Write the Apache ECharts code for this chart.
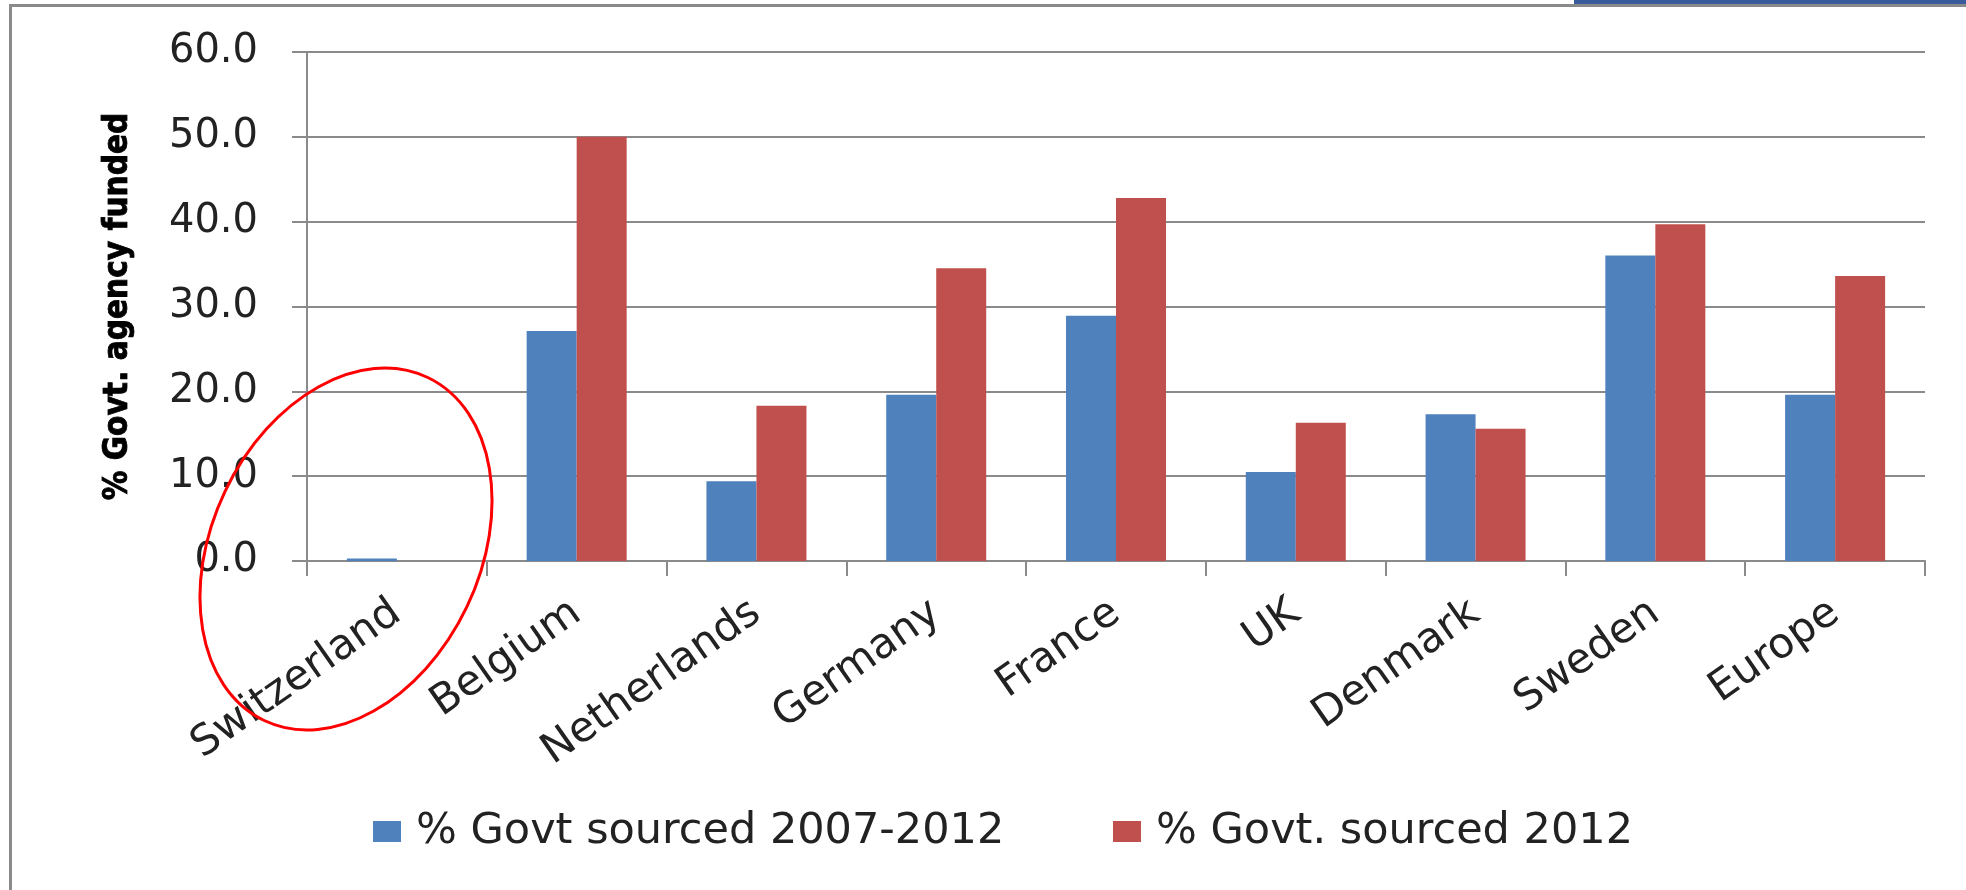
<!DOCTYPE html>
<html>
<head>
<meta charset="utf-8">
<script src="https://cdn.jsdelivr.net/npm/echarts@6/dist/echarts.min.js"></script>
<style>
html,body{margin:0;padding:0;background:#fff;}
#chart{width:1966px;height:890px;}
</style>
</head>
<body>
<div id="chart"></div>
<script>
// ---- data ----
var categories = ['Switzerland','Belgium','Netherlands','Germany','France','UK','Denmark','Sweden','Europe'];
var govtSourced2007_2012 = [0.3, 27.1, 9.4, 19.6, 28.9, 10.5, 17.3, 36.0, 19.6];
var govtSourced2012 = [0, 50.0, 18.3, 34.5, 42.8, 16.3, 15.6, 39.7, 33.6];
var seriesNames = ['% Govt sourced 2007-2012', '% Govt. sourced 2012'];
var yAxisTitle = '% Govt. agency funded';
var yMin = 0, yMax = 60, yStep = 10;

var BLUE = '#4F81BD', RED = '#C0504D', GRID = '#8a8a8a';
var chart = echarts.init(document.getElementById('chart'), null, {renderer:'canvas'});

var option = {
  backgroundColor: '#ffffff',
  animation: false,
  grid: {left: 307, right: 41, top: 52, bottom: 329, containLabel: false, outerBoundsMode: 'none'},
  legend: [
    {data: [seriesNames[0]], left: 373, top: 810, padding: 0, itemWidth: 28, itemHeight: 21, icon: 'rect',
     textStyle: {fontFamily: 'DejaVu Sans', fontSize: 43, color: '#222', padding: [0,0,0,10]}},
    {data: [seriesNames[1]], left: 1113, top: 810, padding: 0, itemWidth: 28, itemHeight: 21, icon: 'rect',
     textStyle: {fontFamily: 'DejaVu Sans', fontSize: 43, color: '#222', padding: [0,0,0,10]}}
  ],
  xAxis: {
    type: 'category',
    data: categories,
    boundaryGap: true,
    axisLine: {show: true, lineStyle: {color: GRID, width: 2}},
    axisTick: {show: true, length: 15, interval: 0, lineStyle: {color: GRID, width: 2}},
    axisLabel: {interval: 0, rotate: 35, margin: 48, fontFamily: 'DejaVu Sans', fontSize: 42, color: '#222'},
    splitLine: {show: false}
  },
  yAxis: {
    type: 'value',
    min: yMin, max: yMax, interval: yStep,
    name: yAxisTitle,
    nameLocation: 'middle',
    nameGap: 172,
    nameRotate: 90,
    nameTextStyle: {fontFamily: "'DejaVu Sans Condensed', sans-serif", fontWeight: 'bold', fontSize: 33, color: '#000',
      textBorderColor: '#000', textBorderWidth: 0.8},
    axisLine: {show: true, lineStyle: {color: GRID, width: 2}},
    axisTick: {show: true, length: 15, lineStyle: {color: GRID, width: 2}},
    axisLabel: {margin: 49, fontFamily: 'DejaVu Sans', fontSize: 40, color: '#222',
      formatter: function (v) { return v.toFixed(1); }},
    splitLine: {show: true, lineStyle: {color: GRID, width: 2}}
  },
  series: [
    {name: seriesNames[0], type: 'bar', data: govtSourced2007_2012, barWidth: 50, barGap: '0%',
     itemStyle: {color: BLUE}},
    {name: seriesNames[1], type: 'bar', data: govtSourced2012, barWidth: 50, barGap: '0%',
     itemStyle: {color: RED}}
  ],
  graphic: [
    {type: 'rect', left: 9, top: 4, shape: {width: 1957, height: 3}, style: {fill: '#8a8a8a'}, silent: true},
    {type: 'rect', left: 9, top: 4, shape: {width: 3, height: 886}, style: {fill: '#8a8a8a'}, silent: true},
    {type: 'rect', left: 1574, top: 0, shape: {width: 392, height: 4}, style: {fill: '#3A5B9C'}, silent: true},
    {type: 'ellipse', x: 346, y: 549, rotation: -0.445,
     shape: {cx: 0, cy: 0, rx: 134, ry: 190},
     style: {fill: 'none', stroke: '#ff0000', lineWidth: 3}, silent: true, z: 100}
  ]
};
chart.setOption(option);
</script>
</body>
</html>
